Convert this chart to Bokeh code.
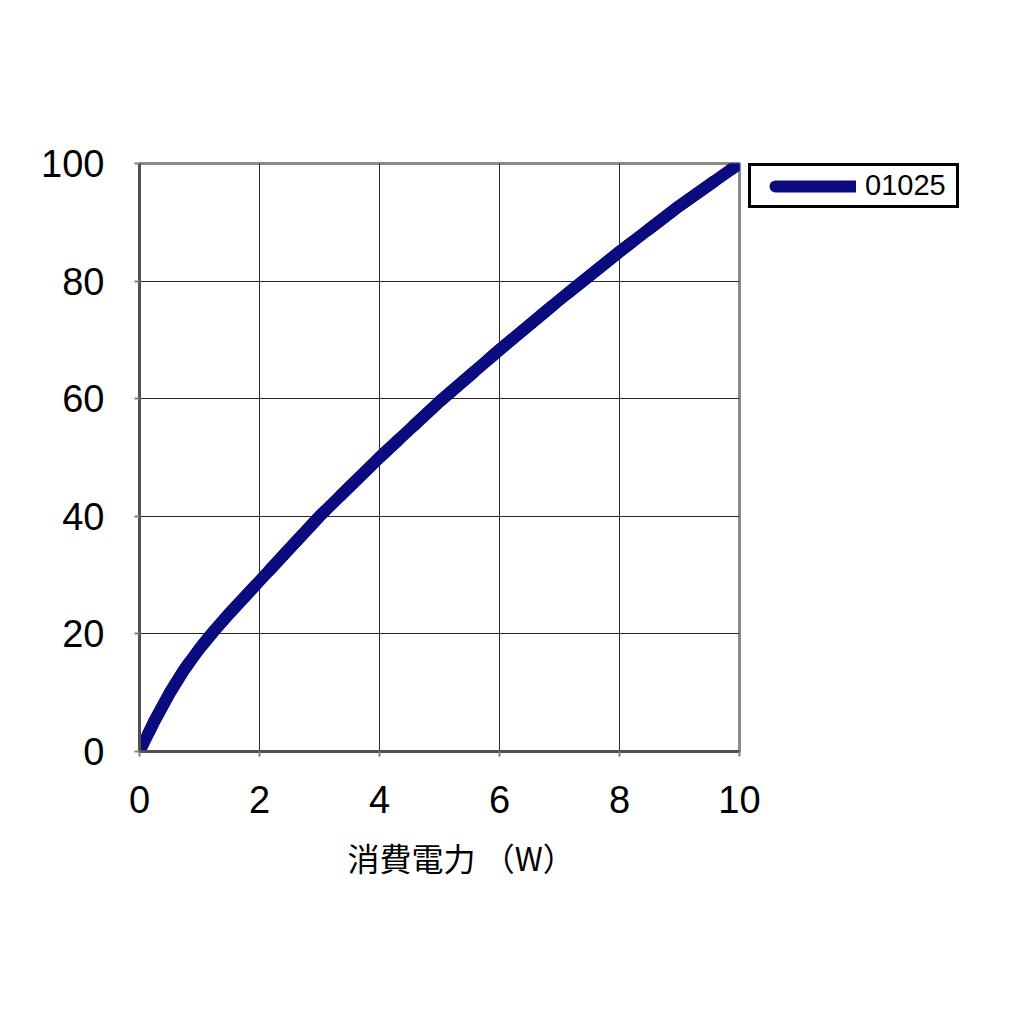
from bokeh.plotting import figure
from bokeh.models import Range1d, FixedTicker, Legend, LegendItem, Title
from bokeh.embed import file_html
from bokeh.resources import INLINE

power_w = [0, 0.25, 0.5, 0.75, 1, 1.25, 1.5, 2, 2.5, 3, 4, 5, 6, 7, 8, 9, 10]
output_pct = [0, 5.2, 9.9, 14.0, 17.5, 20.6, 23.5, 29, 34.5, 40, 50, 59.5, 68.3, 76.8, 85, 92.8, 100]
series_name = "01025"
x_ticks = [0, 2, 4, 6, 8, 10]
y_ticks = [0, 20, 40, 60, 80, 100]
x_label = "消費電力 （W）"

p = figure(frame_width=600, frame_height=588, output_backend="svg", toolbar_location=None,
           x_range=Range1d(0, 10), y_range=Range1d(0, 100),
           min_border_left=139, min_border_right=0, min_border_top=163, min_border_bottom=249)
p.background_fill_color = "white"
p.border_fill_color = "white"
p.outline_line_color = "#8a8a8a"
p.outline_line_width = 3

r = p.line(power_w, output_pct, line_width=12, line_color="#0b0b80", line_cap="round", line_join="round")
# identical dashed copy drawn over the curve (invisible on top of it); used only for the
# legend swatch, whose dash offset leaves the left part of the swatch blank
swatch = p.line(power_w, output_pct, line_width=12, line_color="#0b0b80", line_cap="round",
                line_join="round", line_dash="81 21", line_dash_offset=81)

for ax in (p.xaxis[0], p.yaxis[0]):
    ax.major_label_text_font = "Liberation Sans"
    ax.major_label_text_font_size = "38px"
    ax.major_label_text_color = "black"
    ax.axis_line_color = "#505050"
    ax.axis_line_width = 3
    ax.major_tick_in = 0
    ax.major_tick_out = 5
    ax.major_tick_line_color = "#808080"
    ax.major_tick_line_width = 2
    ax.minor_tick_line_color = None
p.xaxis.major_label_standoff = 29
p.yaxis.major_label_standoff = 30

p.xaxis.ticker = FixedTicker(ticks=x_ticks)
p.yaxis.ticker = FixedTicker(ticks=y_ticks)

xt = Title(text=x_label, align="left", offset=208, text_font="Noto Sans CJK JP",
           text_font_size="32px", text_font_style="normal", text_color="black", standoff=32)
p.add_layout(xt, "below")

p.grid.grid_line_color = "#2a2a2a"
p.grid.grid_line_width = 1
p.grid.grid_line_alpha = 1.0

legend = Legend(items=[LegendItem(label=series_name, renderers=[swatch])], location=(9, 543))
legend.label_text_font = "Liberation Sans"
legend.label_text_font_size = "29px"
legend.label_text_color = "black"
legend.border_line_color = "black"
legend.border_line_alpha = 1.0
legend.border_line_width = 3
legend.glyph_width = 102
legend.glyph_height = 20
legend.label_standoff = 9
legend.label_width = 88
legend.padding = 3
legend.margin = 0
legend.spacing = 0
legend.label_height = 20
legend.background_fill_color = "white"
legend.background_fill_alpha = 1.0
p.add_layout(legend, "right")

open("out.html", "w").write(file_html(p, INLINE))
